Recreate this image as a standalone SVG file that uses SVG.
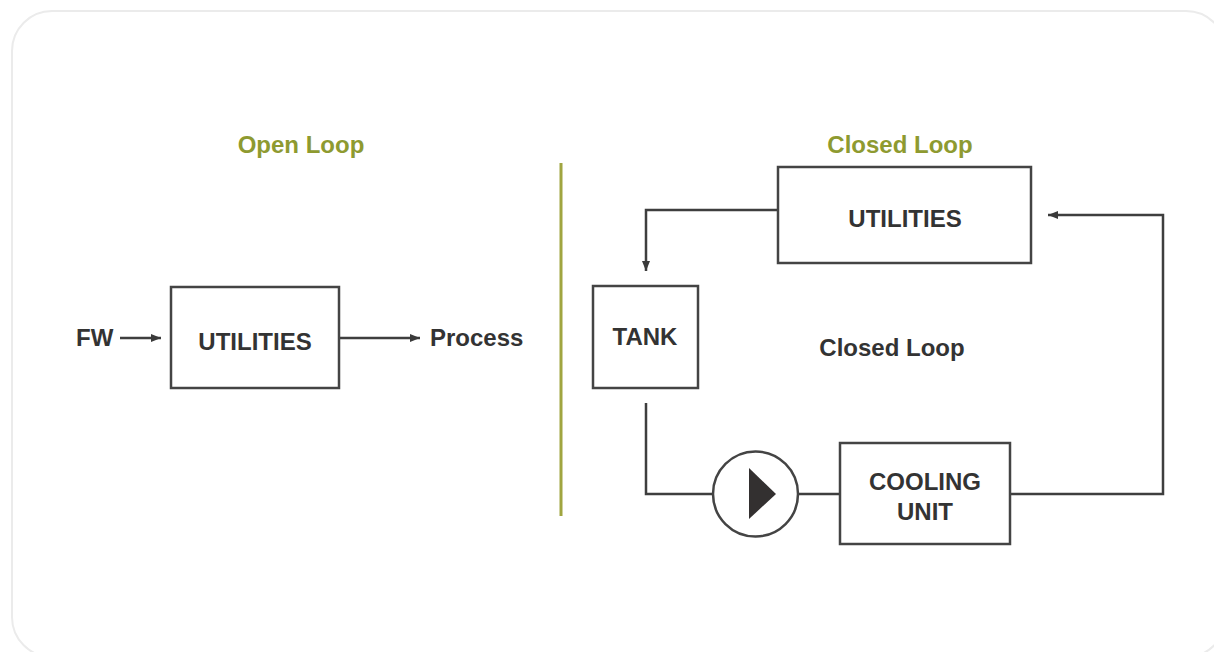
<svg xmlns="http://www.w3.org/2000/svg" width="1214" height="652" viewBox="0 0 1214 652">
  <defs>
    <marker id="arrow" viewBox="0 0 10 8" refX="10" refY="4" markerWidth="10" markerHeight="8" markerUnits="userSpaceOnUse" orient="auto">
      <path d="M0,0 L10,4 L0,8 Z" fill="#3a3a3a"/>
    </marker>
    <style>
      .box { fill: #ffffff; stroke: #444444; stroke-width: 2.5; }
      .line { fill: none; stroke: #3e3e3e; stroke-width: 2.5; }
      .label { font-family: "Liberation Sans", Arial, sans-serif; font-weight: bold; font-size: 24px; fill: #333333; }
      .title { font-family: "Liberation Sans", Arial, sans-serif; font-weight: bold; font-size: 24px; fill: #8e9a30; }
      .mid { text-anchor: middle; }
    </style>
  </defs>

  <!-- card background -->
  <rect x="12" y="11" width="1214" height="646" rx="40" ry="40" fill="#ffffff" stroke="#ebebeb" stroke-width="2"/>

  <!-- section titles and divider -->
  <text class="title mid" x="301" y="153">Open Loop</text>
  <text class="title mid" x="900" y="153">Closed Loop</text>
  <line x1="561" y1="163" x2="561" y2="516" stroke="#a0a540" stroke-width="3"/>

  <!-- connectors -->
  <g id="connectors">
    <line class="line" x1="120" y1="338" x2="161" y2="338" marker-end="url(#arrow)"/>
    <line class="line" x1="339" y1="338" x2="420" y2="338" marker-end="url(#arrow)"/>
    <polyline class="line" points="778,210 646,210 646,271" marker-end="url(#arrow)"/>
    <polyline class="line" points="646,403 646,494 713,494"/>
    <line class="line" x1="797" y1="494" x2="840" y2="494"/>
    <polyline class="line" points="1010,494 1163,494 1163,215 1048,215" marker-end="url(#arrow)"/>
  </g>

  <!-- open loop -->
  <g id="fw">
    <text class="label" x="76" y="346">FW</text>
  </g>
  <g id="open-utilities">
    <rect class="box" x="171" y="287" width="168" height="101"/>
    <text class="label mid" x="255" y="350">UTILITIES</text>
  </g>
  <g id="process">
    <text class="label" x="430" y="346">Process</text>
  </g>

  <!-- closed loop -->
  <g id="closed-utilities">
    <rect class="box" x="778" y="167" width="253" height="96"/>
    <text class="label mid" x="905" y="227">UTILITIES</text>
  </g>
  <g id="tank">
    <rect class="box" x="593" y="286" width="105" height="102"/>
    <text class="label mid" x="645" y="345">TANK</text>
  </g>
  <g id="closed-loop-label">
    <text class="label mid" x="892" y="356">Closed Loop</text>
  </g>
  <g id="pump">
    <circle cx="755.5" cy="494" r="42.5" fill="#ffffff" stroke="#444444" stroke-width="2.5"/>
    <path d="M749,468 L776,494 L749,519 Z" fill="#333030"/>
  </g>
  <g id="cooling-unit">
    <rect class="box" x="840" y="443" width="170" height="101"/>
    <text class="label mid" x="925" y="490">COOLING</text>
    <text class="label mid" x="925" y="520">UNIT</text>
  </g>
</svg>
